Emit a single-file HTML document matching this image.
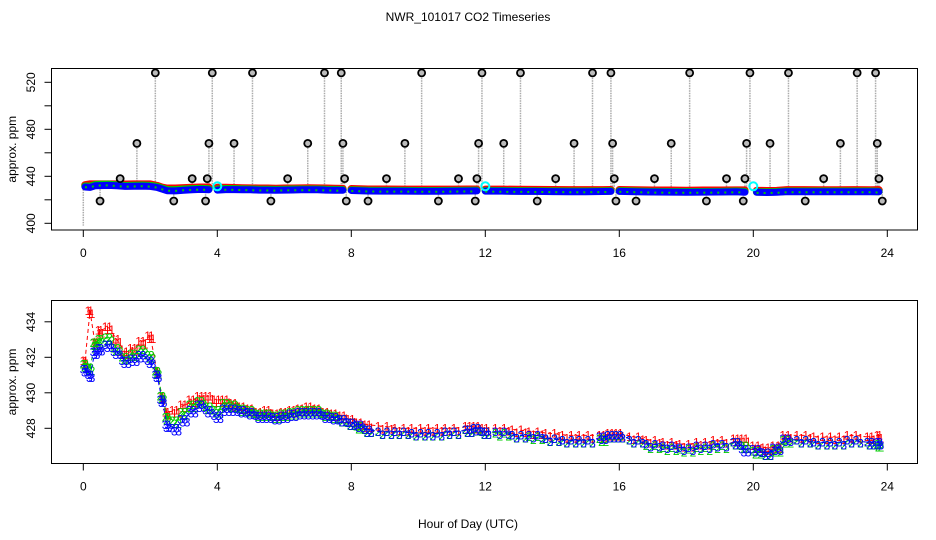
<!DOCTYPE html>
<html><head><meta charset="utf-8"><style>
html,body{margin:0;padding:0;background:#fff;}
svg{display:block;font-family:"Liberation Sans",sans-serif;}
</style></head><body>
<svg id="chart" width="936" height="540" xmlns="http://www.w3.org/2000/svg">
<text x="468" y="21" font-size="12" text-anchor="middle">NWR_101017  CO2 Timeseries</text>
<text x="468" y="528" font-size="12" text-anchor="middle">Hour of Day (UTC)</text>
<g id="topPanel"></g>
<g id="botPanel"></g>
</svg>
<script>
const hours=[0.05,0.2,0.35,0.5,0.75,1,1.25,1.5,1.75,2,2.2,2.35,2.5,2.75,3,3.25,3.5,3.75,4,4.25,4.5,4.75,5,5.25,5.5,5.75,6,6.25,6.5,6.75,7,7.25,7.5,7.75,8,8.25,8.5,9,9.5,10,10.5,11,11.5,11.75,12,12.5,13,13.5,14,14.5,15,15.5,15.75,16,16.5,17,17.5,18,18.5,19,19.5,19.75,20.1,20.4,20.7,21,21.5,22,22.5,23,23.5,23.75];
const series3=[431.3,431.0,432.3,432.5,432.7,432.3,431.8,431.9,432.1,431.8,431.0,429.6,428.2,428.0,428.5,429.0,429.3,429.0,428.7,429.1,429.1,429.0,428.9,428.7,428.7,428.6,428.7,428.8,428.9,428.9,428.9,428.7,428.6,428.5,428.3,428.2,427.9,427.8,427.8,427.7,427.7,427.8,427.9,428.0,427.8,427.8,427.6,427.6,427.4,427.3,427.3,427.5,427.6,427.6,427.3,427.1,427.0,426.9,427.0,427.1,427.2,426.8,426.8,426.6,426.9,427.4,427.3,427.2,427.2,427.3,427.2,427.2];
const series2=[431.6,431.4,432.8,433.0,433.1,432.5,432.0,432.2,432.4,432.1,431.2,429.8,428.6,428.4,428.9,429.3,429.5,429.2,429.0,429.4,429.3,429.1,429.0,428.8,428.8,428.7,428.8,428.9,429.0,429.0,429.0,428.8,428.7,428.5,428.3,428.1,427.9,427.8,427.8,427.7,427.7,427.8,427.9,428.0,427.8,427.7,427.6,427.5,427.4,427.3,427.3,427.4,427.6,427.6,427.3,427.0,426.9,426.8,426.9,427.0,427.2,427.0,426.7,426.6,426.8,427.3,427.3,427.2,427.2,427.3,427.2,427.1];
const series1=[431.8,434.6,432.8,433.5,433.7,433.0,432.3,432.5,432.9,433.2,431.2,429.8,428.9,429.0,429.3,429.6,429.8,429.8,429.6,429.6,429.4,429.2,429.1,428.9,429.0,428.8,428.9,429.0,429.1,429.2,429.1,428.9,428.8,428.7,428.5,428.3,428.2,428.1,428.0,428.0,428.0,428.0,428.1,428.1,428.0,428.0,427.9,427.8,427.7,427.6,427.6,427.6,427.7,427.7,427.5,427.3,427.2,427.1,427.2,427.3,427.4,427.4,427.0,426.9,427.0,427.6,427.6,427.5,427.5,427.6,427.5,427.6];
const gapStarts=[4,8,12,16,20.1];
const spikeHours=[0.5,1.1,1.6,2.15,2.7,3.25,3.65,3.7,3.75,3.85,4.5,5.05,5.6,6.1,6.7,7.2,7.7,7.75,7.8,7.85,8.5,9.05,9.6,10.1,10.6,11.2,11.7,11.75,11.8,11.9,12.55,13.05,13.55,14.1,14.65,15.2,15.75,15.8,15.85,15.9,16.5,17.05,17.55,18.1,18.6,19.2,19.7,19.75,19.8,19.9,20.5,21.05,21.55,22.1,22.6,23.1,23.65,23.7,23.75,23.85];
const spikeValues=[419,438,468,528,419,438,419,438,468,528,468,528,419,438,468,528,528,468,438,419,419,438,468,528,419,438,419,438,468,528,468,528,419,438,468,528,528,468,438,419,419,438,468,528,419,438,419,438,468,528,468,528,419,438,468,528,528,468,438,419];
const xTicks=[0,4,8,12,16,20,24];
const topTicks=[400,440,480,520];
const topMinor=[400,420,440,460,480,500,520];
const botTicks=[428,430,432,434];

const NS="http://www.w3.org/2000/svg";
function mk(p,t,a){const e=document.createElementNS(NS,t);for(const k in a)e.setAttribute(k,a[k]);p.appendChild(e);return e;}
const xS=h=>83.3+h*33.5;
const yT=v=>223.3-(v-400)*1.175;
const yB=v=>428.3-(v-428)*17.75;

function frame(g,y0,y1,name){
  const r=mk(g,'rect',{x:51.5,y:y0,width:866,height:y1-y0,fill:'none',stroke:'#000','stroke-width':1});
  
  
  xTicks.forEach(t=>{
    const l=mk(g,'line',{x1:xS(t),x2:xS(t),y1:y1,y2:y1+7,stroke:'#000'});
    
    
    const tx=mk(g,'text',{x:xS(t),y:y1+27,'font-size':12,'text-anchor':'middle'});
    tx.textContent=t;
    
    
  });
}
function yAxis(g,y0,y1,ticks,labels,ys,name){
  ticks.forEach(t=>{
    const l=mk(g,'line',{x1:44.5,x2:51.5,y1:ys(t),y2:ys(t),stroke:'#000'});
    
    
  });
  labels.forEach(t=>{
    const tx=mk(g,'text',{x:0,y:0,'font-size':12,'text-anchor':'middle',transform:`translate(35,${ys(t)}) rotate(-90)`});
    tx.textContent=t;
    
    
  });
  const yl=mk(g,'text',{x:0,y:0,'font-size':12,'text-anchor':'middle',transform:`translate(16,${(y0+y1)/2}) rotate(-90)`});
  yl.textContent='approx. ppm';
  
  
}
function segs(){const out=[];let cur=[];hours.forEach((h,i)=>{if(i>0&&gapStarts.includes(h)){out.push(cur);cur=[];}cur.push(i);});out.push(cur);return out;}
function pathD(s,xs,ys,off,shift){return idx=>idx.map((i,k)=>(k?'L':'M')+xs(hours[i]+(shift||0)).toFixed(1)+','+(ys(s[i])+off).toFixed(1)).join('');}
function spacing(i){const a=i>0?hours[i]-hours[i-1]:0.15;const b=i<hours.length-1?hours[i+1]-hours[i]:0.15;return Math.min(a,b,0.5);}

// TOP PANEL
const topG=document.getElementById('topPanel');
frame(topG,68.5,230,'top');
yAxis(topG,68.5,230,topMinor,topTicks,yT,'top');
spikeHours.forEach((h,i)=>{
  const l=mk(topG,'line',{x1:xS(h),x2:xS(h),y1:yT(429),y2:yT(spikeValues[i]),stroke:'#aaa','stroke-dasharray':'1.5,1','stroke-width':1.5});
  
  
});
const l0=mk(topG,'line',{x1:xS(0),x2:xS(0),y1:yT(431),y2:yT(398),stroke:'#aaa','stroke-dasharray':'1.5,1','stroke-width':1.5});


[[series1,'#f00','series1',-1],[series2,'#0c0','series2',0],[series3,'#00f','series3',0.5]].forEach(([s,c,n,off])=>{
  const sv=n==='series1'?s.map(v=>Math.min(v,432.5)):s;
  segs().forEach(idx=>{
    const p=mk(topG,'path',{d:pathD(sv,xS,yT,off)(idx),fill:'none',stroke:c,'stroke-width':n==='series3'?7:7.5,'stroke-linecap':'round','stroke-linejoin':'round'});
    
    
  });
});
segs().forEach(idx=>{
  const p=mk(topG,'path',{d:pathD(series2,xS,yT,1)(idx),fill:'none',stroke:'#0c0','stroke-width':2,'stroke-dasharray':'2,5'});
  
  
});
[4,12,20].forEach(h=>{
  const ci=mk(topG,'circle',{cx:xS(h),cy:yT(431.5),r:4,fill:'none',stroke:'#0ff','stroke-width':2});
  
  
});
spikeHours.forEach((h,i)=>{
  const ci=mk(topG,'circle',{cx:xS(h),cy:yT(spikeValues[i]),r:3.5,fill:'#bbb',stroke:'#000','stroke-width':1.8});
  
  
});

// BOTTOM PANEL
const botG=document.getElementById('botPanel');
frame(botG,300.5,463.5,'bottom');
yAxis(botG,300.5,463.5,botTicks,botTicks,yB,'bottom');
[[series1,'#f00','1'],[series2,'#0c0','2'],[series3,'#00f','3']].forEach(([s,c,lab])=>{
  segs().forEach(idx=>{
    const p=mk(botG,'path',{d:pathD(s,xS,yB,0)(idx),fill:'none',stroke:c,'stroke-width':1,'stroke-dasharray':'4,3'});
    
    
  });
  s.forEach((v,i)=>{
    const sp=spacing(i);
    [-0.4,-0.13,0.13,0.4].forEach((f,j)=>{
      const t=mk(botG,'text',{x:xS(hours[i]+f*sp),y:yB(v)+5+(j%2?2:-1),'font-size':12,'text-anchor':'middle',fill:c});
      t.textContent=lab;
      
      
    });
  });
});
</script>
</body></html>
